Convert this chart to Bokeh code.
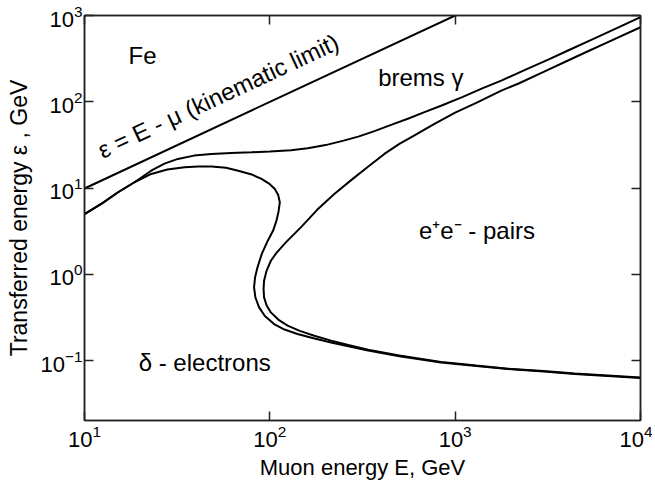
from bokeh.plotting import figure
from bokeh.models import LogAxis, FixedTicker, Range1d, ColumnDataSource
from bokeh.core.properties import value
from bokeh.embed import file_html
from bokeh.resources import INLINE

# ---- data ----
x_ticks = [10, 100, 1000, 10000]
y_ticks = [0.1, 1, 10, 100, 1000]

kin_E = [10, 100, 1000]
kin_eps = [9.9, 99.9, 999.9]

brems_E = [10, 12.5, 15.1, 18.6, 22.9, 27, 31.9, 39, 48.4, 62, 79.6, 100, 130, 160, 200, 250,
           300, 370, 451, 560, 683, 839, 1100, 1400, 1774, 2400, 3200, 4064, 5500, 7500, 10000]
brems_eps = [5.0, 6.7, 8.9, 11.7, 15.9, 19.2, 21.8, 23.8, 24.9, 25.6, 26.0, 26.5, 27.5, 29.0,
             31.5, 35.5, 39.5, 46, 54, 64, 76, 90, 114, 143, 176, 236, 310, 393, 530, 720, 956]

delta_E = [10, 12.5, 15.1, 18.6, 22.9, 28, 34.7, 41, 48.4, 58, 67.5, 79, 90.2, 99, 106.4, 111,
           113.2, 111.5, 108.6, 104.2, 97.5, 90.6, 85.8, 83.2, 82.2, 83.6, 87.5, 94, 105.4,
           120, 141, 172, 214, 265, 339, 500, 839, 1300, 1926, 3000, 4416, 10000]
delta_eps = [5.0, 6.7, 8.9, 11.7, 14.6, 16.4, 17.4, 17.8, 17.8, 17.2, 15.9, 14.5, 12.8, 11.3,
             9.79, 8.3, 6.85, 5.4, 4.20, 3.22, 2.46, 1.74, 1.21, 0.92, 0.708, 0.54, 0.415, 0.33,
             0.266, 0.23, 0.204, 0.182, 0.163, 0.147, 0.131, 0.113, 0.0955, 0.087, 0.080,
             0.075, 0.070, 0.063]

pairs_E = [10000, 7000, 5000, 4064, 3000, 2200, 1774, 1300, 1000, 773, 600, 500, 415, 340, 280,
           222.7, 180, 147, 122, 108, 101.3, 96, 93.1, 92.5, 93.1, 96, 101.3, 111, 124.7, 145,
           173.6, 214, 265, 339, 500, 839, 1300, 1926, 3000, 4416, 10000]
pairs_eps = [731, 515, 370, 301, 222, 163, 135, 97, 75, 55.5, 40.5, 32.5, 24.9, 17.8, 12.8,
             8.57, 5.6, 3.51, 2.35, 1.75, 1.44, 1.1, 0.847, 0.68, 0.542, 0.44, 0.363, 0.30,
             0.255, 0.222, 0.195, 0.171, 0.152, 0.134, 0.115, 0.097, 0.088, 0.081, 0.076,
             0.071, 0.064]

labels = ["Fe", "brems \u03b3", "e\u207ae\u207b - pairs", "\u03b4 - electrons"]
label_E = [17.3, 384, 638, 19.6]
label_eps = [263, 146, 2.46, 0.0726]

kin_label = "\u03b5 = E - \u03bc (kinematic limit)"
kin_label_E = [12.0]
kin_label_eps = [21.0]

FONT = "Liberation Sans"

p = figure(width=652, height=482, x_axis_type="log", y_axis_type="log",
           x_range=Range1d(10, 10000), y_range=Range1d(0.0203, 1000),
           output_backend="svg", toolbar_location=None,
           min_border_left=84, min_border_right=12, min_border_top=15, min_border_bottom=62)
p.grid.visible = False
p.outline_line_color = "#222222"
p.outline_line_width = 1.5
p.background_fill_color = "white"
p.border_fill_color = "white"


def style_axis(ax, ticks, show_labels):
    ax.ticker = FixedTicker(ticks=ticks)
    ax.major_tick_in = 9
    ax.major_tick_out = 0
    ax.minor_tick_line_color = None
    ax.major_tick_line_color = "#222222"
    ax.major_tick_line_width = 1.5
    ax.axis_line_color = "#222222"
    ax.axis_line_width = 1.5
    ax.major_label_text_font = FONT
    ax.major_label_text_color = "black"
    if show_labels:
        ax.major_label_text_font_size = "22px"
    else:
        ax.major_label_text_font_size = "1px"
        ax.major_label_text_alpha = 0
        ax.major_label_standoff = 0


style_axis(p.xaxis[0], x_ticks, True)
style_axis(p.yaxis[0], y_ticks, True)
p.xaxis[0].major_label_standoff = 4
p.yaxis[0].major_label_standoff = 2
p.xaxis[0].axis_label = "Muon energy E, GeV"
p.yaxis[0].axis_label = "Transferred energy \u03b5 , GeV"
for ax in (p.xaxis[0], p.yaxis[0]):
    ax.axis_label_text_font = FONT
    ax.axis_label_text_font_style = "normal"
    ax.axis_label_text_color = "black"
p.xaxis[0].axis_label_text_font_size = "22px"
p.yaxis[0].axis_label_text_font_size = "23px"
p.xaxis[0].axis_label_standoff = 5
p.yaxis[0].axis_label_standoff = 5

top_ax = LogAxis()
style_axis(top_ax, x_ticks, False)
p.add_layout(top_ax, "above")
right_ax = LogAxis()
style_axis(right_ax, y_ticks, False)
p.add_layout(right_ax, "right")

p.line(kin_E, kin_eps, line_color="black", line_width=2)
p.line(brems_E, brems_eps, line_color="black", line_width=2)
p.line(delta_E, delta_eps, line_color="black", line_width=2)
p.line(pairs_E, pairs_eps, line_color="black", line_width=2)

src = ColumnDataSource(dict(x=label_E, y=label_eps, t=labels))
p.text(x="x", y="y", text="t", source=src, text_font=value(FONT), text_font_size="24px",
       text_color="black", text_align="left", text_baseline="alphabetic", y_offset=-10)

p.text(x=kin_label_E, y=kin_label_eps, text=[kin_label], angle=0.435,
       text_font=value(FONT), text_font_size="24px", text_color="black",
       text_align="left", text_baseline="alphabetic", y_offset=-9)

open("out.html", "w").write(file_html(p, INLINE))
